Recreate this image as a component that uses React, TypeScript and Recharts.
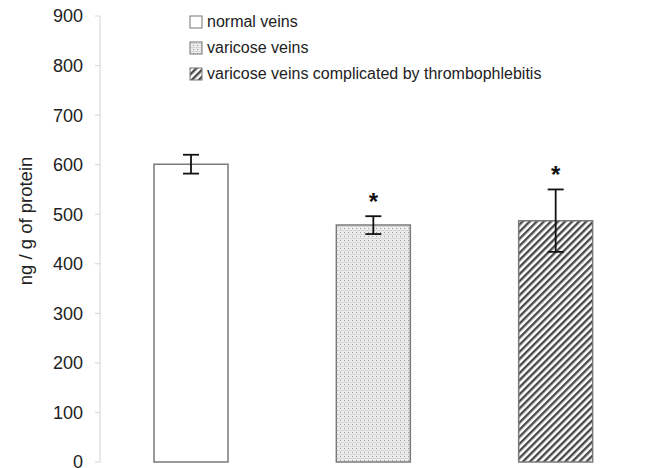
import {
  Bar,
  BarChart,
  Cell,
  ErrorBar,
  LabelList,
  XAxis,
  YAxis,
} from "recharts"

const groups = [
  "normal veins",
  "varicose veins",
  "varicose veins complicated by thrombophlebitis",
]
const means = [601, 478, 487]
const errors = [19, 18, 63]
const significant = [false, true, true]
const yTicks = [0, 100, 200, 300, 400, 500, 600, 700, 800, 900]
const fills = ["#ffffff", "url(#dots)", "url(#hatch)"]

const data = groups.map((name, i) => ({
  name,
  pos: i,
  value: means[i],
  err: errors[i],
  star: significant[i] ? "*" : "",
}))

const FONT = "Liberation Sans, Arial, sans-serif"

// asterisk sits a little above the top of the error bar
function Star(props: any) {
  const { x, y, width, height, value, index } = props
  if (!value) return null
  const pxPerUnit = height / means[index]
  const errTop = y - errors[index] * pxPerUnit
  return (
    <text
      x={x + width / 2}
      y={errTop - 6}
      textAnchor="middle"
      fontSize={24}
      fontWeight="bold"
      fontFamily={FONT}
      fill="#111"
    >
      {value}
    </text>
  )
}

function YLabel(props: any) {
  const { viewBox } = props
  const cx = viewBox.x + 25
  const cy = viewBox.y + viewBox.height / 2 - 18
  return (
    <text
      x={cx}
      y={cy}
      transform={`rotate(-90 ${cx} ${cy})`}
      textAnchor="middle"
      dominantBaseline="central"
      fontSize={18.5}
      fontFamily={FONT}
      fill="#222"
    >
      ng / g of protein
    </text>
  )
}

// drawn over the chart, Recharts' Legend would eat plot space
function LegendBox() {
  return (
    <div
      style={{
        position: "absolute",
        left: 189,
        top: 9,
        fontFamily: FONT,
        fontSize: 16,
        color: "#222",
      }}
    >
      {groups.map((g, i) => (
        <div
          key={g}
          style={{ display: "flex", alignItems: "center", height: 26 }}
        >
          <svg width={14} height={14} style={{ marginRight: 4 }}>
            <rect
              x={1}
              y={1}
              width={12}
              height={12}
              fill={fills[i]}
              stroke="#777"
              strokeWidth={1}
            />
          </svg>
          <span>{g}</span>
        </div>
      ))}
    </div>
  )
}

export default function App() {
  return (
    <div style={{ position: "absolute", left: 0, top: 0, width: 655, height: 468 }}>
      <BarChart
        width={655}
        height={468}
        data={data}
        margin={{ top: 16, right: 8, bottom: 0, left: 0 }}
        barSize={74}
      >
        <defs>
          <pattern id="dots" width={4} height={4} patternUnits="userSpaceOnUse">
            <rect width={4} height={4} fill="#ececec" />
            <rect x={0} y={0} width={1} height={1} fill="#9a9a9a" />
            <rect x={2} y={2} width={1} height={1} fill="#bdbdbd" />
            <rect x={0} y={2} width={4} height={1} fill="#d6d6d6" />
          </pattern>
          <pattern
            id="hatch"
            width={5}
            height={5}
            patternUnits="userSpaceOnUse"
            patternTransform="rotate(45)"
          >
            <rect width={5} height={5} fill="#ffffff" />
            <rect x={0} y={0} width={2.4} height={5} fill="#4a4a4a" />
          </pattern>
        </defs>
        <XAxis dataKey="name" xAxisId="cat" hide />
        <XAxis
          xAxisId="grid"
          type="number"
          dataKey="pos"
          domain={[0, 3]}
          ticks={[0, 1, 2, 3]}
          tickFormatter={() => ""}
          stroke="#d4d4d4"
          tickSize={6}
          height={6}
          allowDataOverflow
        />
        <YAxis
          domain={[0, 900]}
          ticks={yTicks}
          interval={0}
          width={100}
          stroke="#d4d4d4"
          tickSize={5}
          tickMargin={12}
          tick={{ fill: "#222", fontSize: 18, fontFamily: FONT }}
          label={<YLabel />}
        />
        <Bar
          dataKey="value"
          xAxisId="cat"
          stroke="#7a7a7a"
          strokeWidth={1.5}
          isAnimationActive={false}
        >
          {data.map((d, i) => (
            <Cell key={d.name} fill={fills[i]} />
          ))}
          <ErrorBar
            dataKey="err"
            width={8}
            stroke="#111"
            strokeWidth={1.8}
          />
          <LabelList dataKey="star" content={Star} />
        </Bar>
      </BarChart>
      <LegendBox />
    </div>
  )
}
